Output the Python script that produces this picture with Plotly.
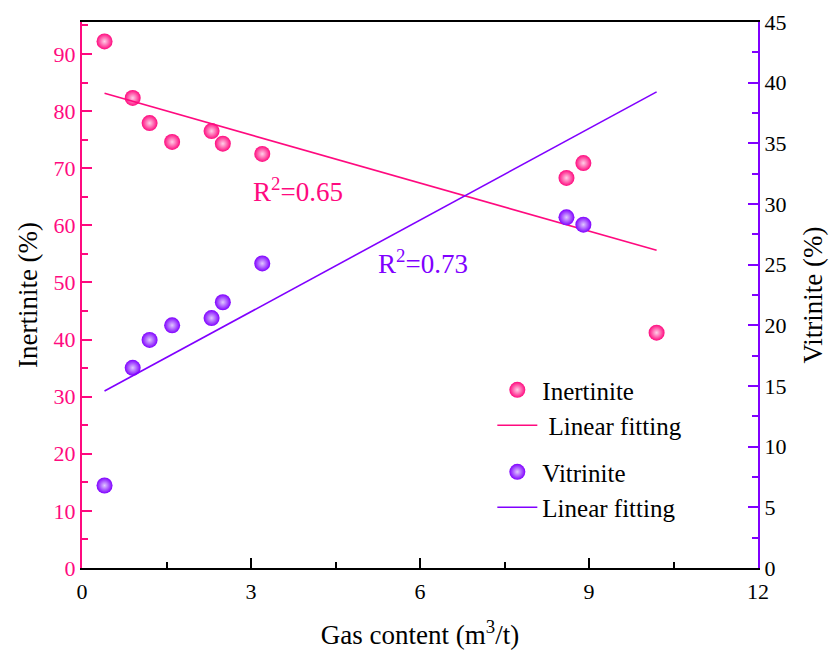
import numpy as np
import plotly.graph_objects as go

gas = [0.4, 0.9, 1.2, 1.6, 2.3, 2.5, 3.2, 8.6, 8.9, 10.2]
inertinite = [92.2, 82.3, 77.9, 74.6, 76.5, 74.3, 72.5, 68.3, 70.9, 41.2]
vitrinite = [6.8, 16.5, 18.8, 20.0, 20.6, 21.9, 25.1, 28.9, 28.3, 49.0]
x_ticks = [0, 3, 6, 9, 12]
left_ticks = [0, 10, 20, 30, 40, 50, 60, 70, 80, 90]
right_ticks = [0, 5, 10, 15, 20, 25, 30, 35, 40, 45]

PINK = "#FF0A7F"
PURPLE = "#8000FF"
FONT = "Liberation Serif"

x = np.array(gas)
ki, bi = np.polyfit(x, np.array(inertinite), 1)
kv, bv = np.polyfit(x, np.array(vitrinite), 1)
xf = np.array([x.min(), x.max()])

fig = go.Figure()
fig.add_trace(go.Scatter(
    x=gas, y=inertinite, mode="markers", name="Inertinite",
    legendgroup="a",
    marker=dict(size=16, color=PINK, gradient=dict(type="radial", color="#FFD0E8"),
                line=dict(width=0))))
fig.add_trace(go.Scatter(
    x=xf, y=ki * xf + bi, mode="lines", name=" Linear fitting",
    legendgroup="a", line=dict(color=PINK, width=1.6)))
fig.add_trace(go.Scatter(
    x=gas, y=vitrinite, mode="markers", name="Vitrinite", yaxis="y2",
    legendgroup="b",
    marker=dict(size=16, color=PURPLE, gradient=dict(type="radial", color="#E0C8FF"),
                line=dict(width=0))))
fig.add_trace(go.Scatter(
    x=xf, y=kv * xf + bv, mode="lines", name="Linear fitting", yaxis="y2",
    legendgroup="b", line=dict(color=PURPLE, width=1.6)))

fig.update_layout(
    width=829, height=650,
    margin=dict(l=82, r=71, t=22, b=82),
    plot_bgcolor="white", paper_bgcolor="white",
    font=dict(family=FONT, size=22, color="black"),
    showlegend=True,
    legend=dict(x=0.607, y=0.368, xanchor="left", yanchor="top",
                bgcolor="rgba(0,0,0,0)", font=dict(family=FONT, size=25, color="black"),
                tracegroupgap=11, itemwidth=40),
    xaxis=dict(range=[0, 12], tickvals=x_ticks, ticks="inside", ticklen=10, tickwidth=1.5,
               tickcolor="black", showline=True, linecolor="black", linewidth=2,
               mirror=True, showgrid=False, zeroline=False, automargin=False,
               minor=dict(dtick=1.5, ticks="inside", ticklen=6, tickcolor="black", tickwidth=1.5),
               tickfont=dict(family=FONT, size=22, color="black"),
               ticklabelstandoff=3,
               title=dict(text="Gas content (m<sup>3</sup>/t)", font=dict(family=FONT, size=27),
                          standoff=25)),
    yaxis=dict(range=[0, 95.6], tickvals=left_ticks, ticks="inside", ticklen=10, tickwidth=1.5,
               tickcolor=PINK, showline=True, linecolor=PINK, linewidth=2,
               showgrid=False, zeroline=False, automargin=False,
               minor=dict(dtick=5, ticks="inside", ticklen=6, tickcolor=PINK, tickwidth=1.5),
               tickfont=dict(family=FONT, size=22, color=PINK),
               title=dict(text="Inertinite (%)", font=dict(family=FONT, size=27, color="black"),
                          standoff=8)),
    yaxis2=dict(range=[0, 45], tickvals=right_ticks, overlaying="y", side="right",
                ticks="inside", ticklen=10, tickwidth=1.5, tickcolor=PURPLE,
                showline=True, linecolor=PURPLE, linewidth=2,
                showgrid=False, zeroline=False, automargin=False,
                minor=dict(dtick=2.5, ticks="inside", ticklen=6, tickcolor=PURPLE, tickwidth=1.5),
                tickfont=dict(family=FONT, size=22, color="black"),
                title=dict(text="Vitrinite (%)", font=dict(family=FONT, size=27, color="black"),
                           standoff=18)),
    annotations=[
        dict(x=3.84, y=66.2, xref="x", yref="y", text="R<sup>2</sup>=0.65", showarrow=False,
             font=dict(family=FONT, size=27, color=PINK)),
        dict(x=6.06, y=53.6, xref="x", yref="y", text="R<sup>2</sup>=0.73", showarrow=False,
             font=dict(family=FONT, size=27, color=PURPLE)),
    ],
)

fig.write_html("out.html")
